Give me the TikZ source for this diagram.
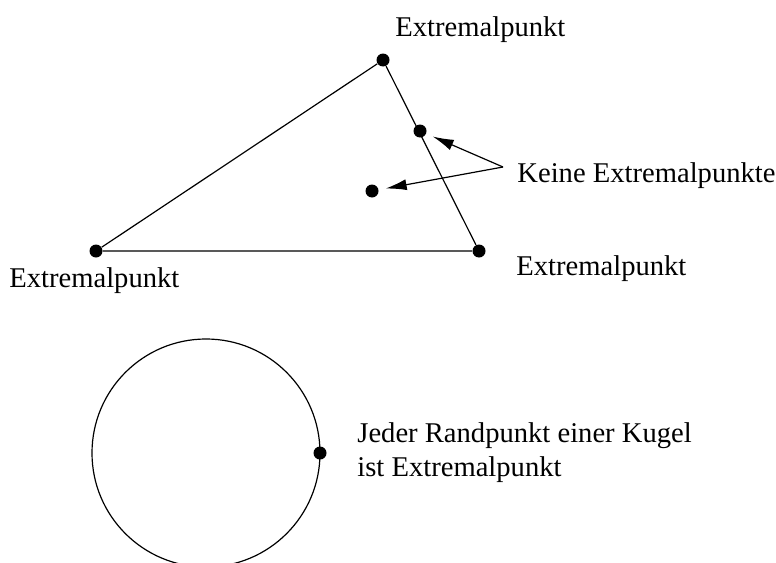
\documentclass[tikz,border=0pt]{standalone}
\usepackage{fontspec}
\setmainfont{Liberation Serif}
\usetikzlibrary{arrows.meta}
\tikzset{
  ept/.style={circle, fill=black, inner sep=0pt, minimum size=6.5pt},
  lbl/.style={anchor=base west, inner sep=0pt, font=\fontsize{14.3}{17}\selectfont},
  edge/.style={line width=0.6pt},
  hint/.style={line width=0.6pt, -{Latex[length=10.5pt,width=5.5pt]}, shorten >=3.5pt},
}
\begin{document}
\begin{tikzpicture}[x=0.5pt, y=-0.5pt]
  \useasboundingbox (0,0) rectangle (776,562);
  \clip (0,0) rectangle (776,562);
  % triangle
  \node[ept] (top) at (383,60) {};
  \node[ept] (left) at (96,251) {};
  \node[ept] (right) at (479,251) {};
  \draw[edge] (left) -- (top) -- (right) -- (left);
  \node[ept] (onedge) at (420,131) {};
  \node[ept] (inner) at (372,191) {};
  \node[lbl] (ltop) at (395,36) {Extremalpunkt};
  \node[lbl] (lleft) at (9,287) {Extremalpunkt};
  \node[lbl] (lright) at (516,275) {Extremalpunkt};
  \node[lbl] (lnone) at (517,182) {Keine Extremalpunkte};
  \coordinate (from) at (503,167);
  \foreach \t in {onedge,inner}
    \draw[hint] (from) -- (\t);
  % ball
  \draw[edge] (206,453) circle[radius=57pt];
  \node[ept] (rim) at (320,453) {};
  \node[lbl] (lball) at (357,442) {Jeder Randpunkt einer Kugel};
  \node[lbl] (lball2) at (357,476) {ist Extremalpunkt};
\end{tikzpicture}
\end{document}
